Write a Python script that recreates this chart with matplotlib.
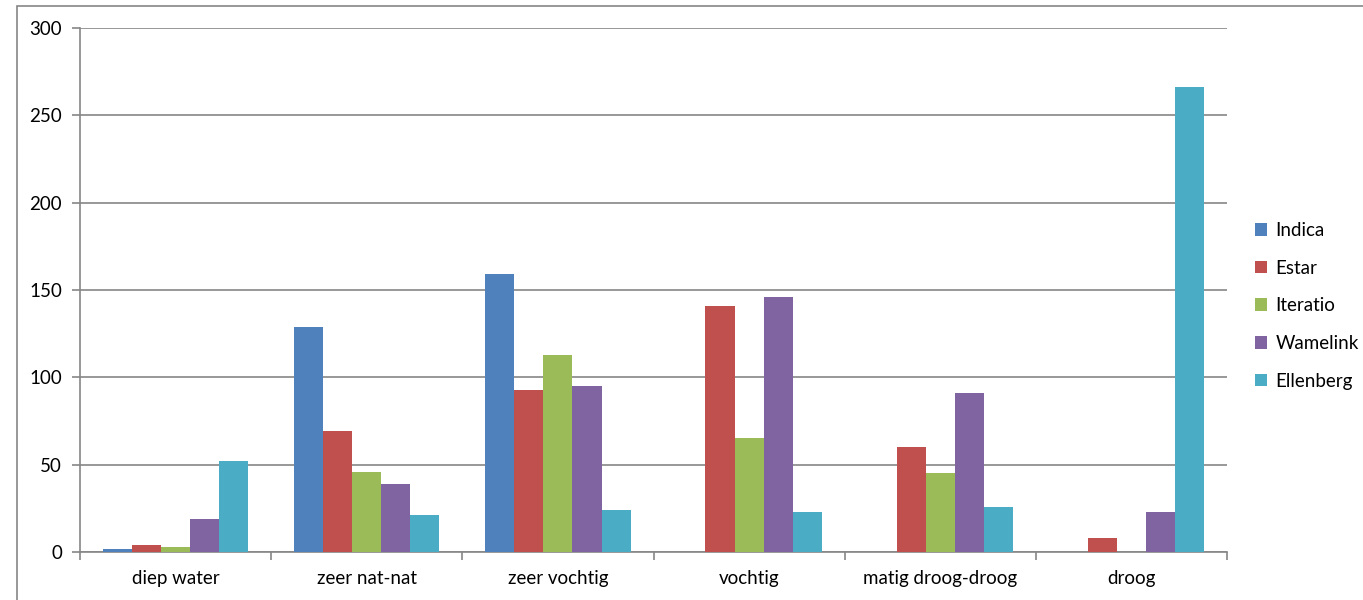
import numpy as np
import matplotlib.pyplot as plt
from matplotlib.patches import Rectangle

categories = ["diep water", "zeer nat-nat", "zeer vochtig", "vochtig", "matig droog-droog", "droog"]
series_names = ["Indica", "Estar", "Iteratio", "Wamelink", "Ellenberg"]
indica = [2, 129, 159, 0, 0, 0]
estar = [4, 69, 93, 141, 60, 8]
iteratio = [3, 46, 113, 65, 45, 0]
wamelink = [19, 39, 95, 146, 91, 23]
ellenberg = [52, 21, 24, 23, 26, 266]
colors = ["#4F81BD", "#C0504D", "#9BBB59", "#8064A2", "#4BACC6"]

plt.rcParams['font.family'] = ['Lato', 'DejaVu Sans']
grey = "#868686"
fs = 13.5

fig = plt.figure(figsize=(13.63, 6), dpi=100)
ax = fig.add_axes([80/1363, 48/600, (1227-80)/1363, (552-28)/600])

all_series = [indica, estar, iteratio, wamelink, ellenberg]
x = np.arange(len(categories))
w = 0.152
for i, (vals, name) in enumerate(zip(all_series, series_names)):
    ax.bar(x + (i - 2) * w, vals, width=w, color=colors[i], label=name, zorder=3)

ax.set_xlim(-0.5, len(categories) - 0.5)
ax.set_ylim(0, 300)
ax.set_yticks(np.arange(0, 301, 50))
ax.yaxis.grid(True, color=grey, lw=1.2, zorder=0)

# category labels centred, ticks on category borders
ax.set_xticks(x)
ax.set_xticklabels(categories, fontsize=fs)
ax.set_xticks(np.arange(-0.5, len(categories), 1), minor=True)
ax.tick_params(axis='x', which='major', length=0, pad=13)
ax.tick_params(axis='x', which='minor', length=6, color=grey, width=1.2)
ax.tick_params(axis='y', length=6, color=grey, width=1.2, labelsize=fs, pad=7)

for s in ["top", "right"]:
    ax.spines[s].set_visible(False)
for s in ["left", "bottom"]:
    ax.spines[s].set_color(grey)
    ax.spines[s].set_linewidth(1.2)

ax.legend(loc="upper left", bbox_to_anchor=(1255/1363, 1 - 222/600),
          bbox_transform=fig.transFigure, frameon=False, fontsize=fs,
          handlelength=0.65, handleheight=0.65, handletextpad=0.45,
          labelspacing=1.1, borderpad=0, borderaxespad=0)

# outer chart border
fig.patches.append(Rectangle((17/1363, -0.1), 2, 0.99 + 0.1, transform=fig.transFigure,
                             fill=False, edgecolor=grey, lw=1.2, clip_on=False))

fig.savefig("out.png", dpi=100)
